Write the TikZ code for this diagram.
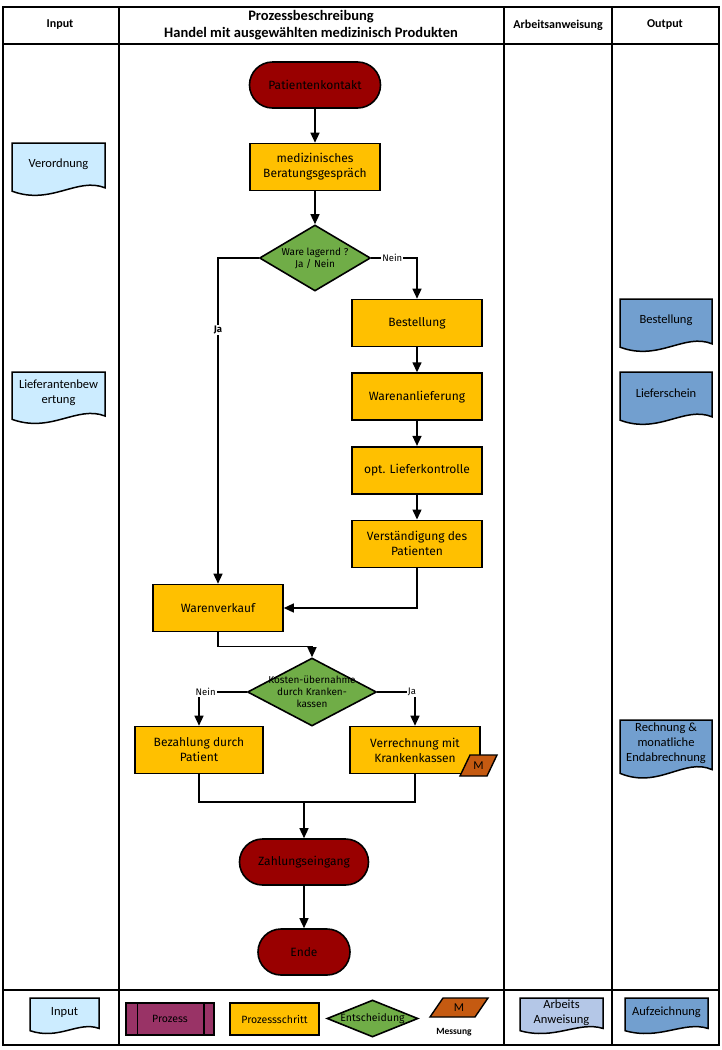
\documentclass[tikz,border=0pt]{standalone}
\usepackage{fontspec}
\setmainfont{Carlito}
\newfontfamily\flowfont{Fira Sans}
\usepackage{tikz}
\usetikzlibrary{positioning, arrows.meta, shapes.geometric, calc}
\definecolor{termred}{RGB}{153,0,0}
\definecolor{stepgold}{RGB}{255,192,0}
\definecolor{decgreen}{RGB}{112,173,71}
\definecolor{measure}{RGB}{197,90,17}
\definecolor{inblue}{RGB}{204,236,255}
\definecolor{outblue}{RGB}{114,159,207}
\definecolor{workblue}{RGB}{180,199,231}
\definecolor{procplum}{RGB}{153,51,102}

% document symbol: name, x, y (top left), width, height, fill, text
\newcommand{\docshape}[7]{%
  \begin{scope}[shift={(#2,#3)}, xscale=#4, yscale=#5]
    \filldraw[fill=#6, line width=1.5pt] (0,0) -- (1,0) -- (1,0.80)
      .. controls (0.7,0.60) and (0.42,1.12) .. (0,0.86) -- cycle;
  \end{scope}
  \node[doctext] (#1) at ($(#2,#3)+(#4/2,0.38*#5)$) {#7};
}

\begin{document}
\begin{tikzpicture}[
  x=1pt, y=-1pt,
  frame/.style={line width=2pt},
  term/.style={draw, fill=termred, rounded corners=23pt, line width=1.6pt,
               minimum width=131pt, minimum height=46pt,
               font=\flowfont\fontsize{12}{14}\selectfont},
  stepbox/.style={draw, fill=stepgold, line width=1.6pt,
                  minimum width=130pt, minimum height=47pt, align=center,
                  font=\flowfont\fontsize{12}{15}\selectfont},
  decision/.style={diamond, draw, fill=decgreen, line width=1.6pt, inner sep=0pt},
  dectext/.style={font=\flowfont\fontsize{10}{12}\selectfont, align=center},
  procbox/.style={draw, fill=procplum, line width=1.6pt,
                  minimum width=88pt, minimum height=32pt,
                  font=\flowfont\fontsize{10.5}{12}\selectfont},
  doctext/.style={align=center, font=\fontsize{12.5}{15}\selectfont},
  head/.style={font=\bfseries\fontsize{12}{14}\selectfont},
  title/.style={font=\bfseries\fontsize{14.5}{17}\selectfont, align=center},
  lbl/.style={fill=white, inner sep=1pt, font=\flowfont\fontsize{9.5}{11}\selectfont},
  line/.style={line width=1.4pt},
  arr/.style={line, -{Triangle[length=10pt, width=9pt]}},
]
  \useasboundingbox (0,0) rectangle (721,1050);

  % lanes
  \draw[frame] (3,7) rectangle (719,1045);
  \draw[frame] (3,44) -- (719,44);
  \draw[frame] (3,990) -- (719,990);
  \foreach \lx in {119,504,612}
    \draw[frame] (\lx,7) -- (\lx,1045);

  \node[head] (hinput) at (60,25) {Input};
  \node[title] (htitle) at (311,25) {Prozessbeschreibung\\Handel mit ausgewählten medizinisch Produkten};
  \node[head] (harbeit) at (558,25) {Arbeitsanweisung};
  \node[head] (houtput) at (665,25) {Output};

  % flow
  \node[term] (start) at (315,85) {Patientenkontakt};
  \node[stepbox] (beratung) at (315,167) {medizinisches\\Beratungsgespräch};
  \node[decision, minimum width=111pt, minimum height=66pt,
        label={[dectext]center:{Ware lagernd ?\\Ja / Nein}}] (lager) at (315,258) {};
  \node[stepbox] (bestell) at (417,323) {Bestellung};
  \node[stepbox, below=25pt of bestell] (anlief) {Warenanlieferung};
  \node[stepbox, below=25pt of anlief] (kontrolle) {opt. Lieferkontrolle};
  \node[stepbox, below=25pt of kontrolle] (verstaend) {Verständigung des\\Patienten};
  \node[stepbox] (verkauf) at (218,608) {Warenverkauf};
  \node[decision, minimum width=129pt, minimum height=68pt,
        label={[dectext]center:{Kosten-übernahme\\durch Kranken-\\kassen}}] (kosten) at (312,692) {};
  \node[stepbox, minimum width=128pt] (bezahl) at (199,750) {Bezahlung durch\\Patient};
  \node[stepbox] (verrech) at (415,750) {Verrechnung mit\\Krankenkassen};
  \draw[fill=measure, line width=1.4pt] (460,776) -- (470,755) -- (497,755) -- (487,776) -- cycle;
  \node[font=\fontsize{12}{14}\selectfont] (mflow) at (478.5,765.5) {M};
  \node[term, minimum width=129pt] (zahlung) at (304,862) {Zahlungseingang};
  \node[term, minimum width=92pt] (ende) at (304,952) {Ende};
  \coordinate (merge) at (304,802);

  \draw[arr] (start) -- (beratung);
  \draw[arr] (beratung) -- (lager);
  \draw[arr] (lager.west) -| node[lbl, pos=0.61, font=\flowfont\bfseries\fontsize{9.5}{11}\selectfont] {Ja} (verkauf.north);
  \draw[arr] (lager.east) -| node[lbl, pos=0.23] {Nein} (bestell.north);
  \draw[arr] (bestell) -- (anlief);
  \draw[arr] (anlief) -- (kontrolle);
  \draw[arr] (kontrolle) -- (verstaend);
  \draw[arr] (verstaend.south) |- (verkauf.east);
  \draw[arr] (verkauf.south) -- ++(0,14) -| (kosten.north);
  \draw[arr] (kosten.west) -| node[lbl, pos=0.43] {Nein} (bezahl.north);
  \draw[arr] (kosten.east) -| node[lbl, pos=0.46] {Ja} (verrech.north);
  \draw[line] (bezahl.south) |- (merge) -| (verrech.south);
  \draw[arr] (merge) -- (zahlung);
  \draw[arr] (zahlung) -- (ende);

  % input / output documents
  \docshape{verordnung}{12}{143}{93}{56}{inblue}{Verordnung}
  \docshape{bewertung}{12}{372}{93}{55}{inblue}{Lieferantenbew\\ertung}
  \docshape{outbestell}{620}{299}{92}{56}{outblue}{Bestellung}
  \docshape{lieferschein}{620}{372}{92}{56}{outblue}{Lieferschein}
  \docshape{rechnung}{620}{720}{92}{62}{outblue}{Rechnung \&\\monatliche\\Endabrechnung}

  % legend
  \docshape{leginput}{30}{998}{69}{38}{inblue}{Input}
  \node[procbox] (legproc) at (170,1019) {Prozess};
  \draw[line] ($(legproc.north west)+(12,0)$) -- ($(legproc.south west)+(12,0)$);
  \draw[line] ($(legproc.north east)+(-11,0)$) -- ($(legproc.south east)+(-11,0)$);
  \node[stepbox, minimum width=89pt, minimum height=32pt,
        font=\flowfont\fontsize{10.5}{12}\selectfont] (legstep) at (274.5,1019) {Prozessschritt};
  \node[decision, minimum width=91pt, minimum height=37pt,
        label={[dectext, font=\flowfont\fontsize{10.5}{12}\selectfont]center:Entscheidung}] (legdec) at (372.5,1018.5) {};
  \draw[fill=measure, line width=1.4pt] (430,1017) -- (443,998) -- (488,998) -- (475,1017) -- cycle;
  \node[font=\fontsize{12}{14}\selectfont] (legm) at (459,1007.5) {M};
  \node[font=\bfseries\fontsize{9.5}{11}\selectfont] (legmess) at (454,1032) {Messung};
  \docshape{legwork}{520}{998}{83}{38}{workblue}{Arbeits\\Anweisung}
  \docshape{legrecord}{625}{998}{83}{38}{outblue}{Aufzeichnung}
\end{tikzpicture}
\end{document}
